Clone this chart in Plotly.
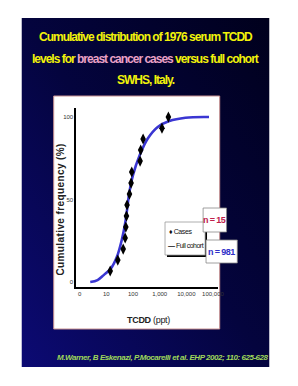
import base64
import plotly.graph_objects as go

W, H = 298, 386

# ---- data ----
cohort_tcdd = [2.5, 4.7, 8, 15, 25, 38, 51, 62, 71, 100, 180, 360, 850, 2300, 9300, 71000]
cohort_cum = [0, 1.2, 4.2, 8.3, 15.3, 25.5, 35.6, 45.6, 53, 64.8, 77, 87, 94, 97.6, 99.6, 100]
case_tcdd = [14, 27, 43, 51, 54, 57, 60, 74, 85, 90, 185, 195, 240, 1225, 2130]
case_cum = [6.7, 13.3, 20, 26.7, 33.3, 40, 46.7, 53.3, 60, 66.7, 73.3, 80, 86.7, 93.3, 100]
x_tickvals = [1, 10, 100, 1000, 10000, 100000]
x_ticktext = ["0", "10", "100", "1,000", "10,000", "100,000"]
y_tickvals = [0, 50, 100]

SANS = "Liberation Sans, Arial, sans-serif"


def px(x):
    return x / W


def py(y):
    return 1 - y / H


def tight(text, ls):
    return "<span style='letter-spacing:%spx'>%s</span>" % (ls, text)


fig = go.Figure()
fig.add_trace(go.Scatter(x=cohort_tcdd, y=cohort_cum, mode="lines",
                         line=dict(color="#3a36d2", width=2.6, shape="spline", smoothing=1.0),
                         showlegend=False, hoverinfo="skip"))
fig.add_trace(go.Scatter(x=case_tcdd, y=case_cum, mode="markers",
                         marker=dict(symbol="diamond-tall", color="black", size=8, line=dict(width=0)),
                         showlegend=False))

svg = ('<svg xmlns="http://www.w3.org/2000/svg" width="254" height="349" viewBox="0 0 254 349" preserveAspectRatio="none">'
       '<defs><linearGradient id="g" x1="0" y1="1" x2="1" y2="0">'
       '<stop offset="0" stop-color="#0c0a74"/><stop offset="0.5" stop-color="#04043e"/>'
       '<stop offset="1" stop-color="#00001c"/></linearGradient></defs>'
       '<rect width="254" height="349" fill="url(#g)"/></svg>')
src = "data:image/svg+xml;base64," + base64.b64encode(svg.encode()).decode()

fig.update_layout(
    width=W, height=H, margin=dict(l=0, r=0, t=0, b=0),
    paper_bgcolor="white", plot_bgcolor="#d6d6d6",
    images=[dict(source=src, xref="paper", yref="paper", x=px(22), y=py(18),
                 sizex=px(276) - px(22), sizey=py(18) - py(367), sizing="stretch",
                 xanchor="left", yanchor="top", layer="below")],
    xaxis=dict(type="log", domain=[px(78), px(223)], range=[-0.13, 5.18],
               tickvals=x_tickvals, ticktext=x_ticktext, showgrid=False, zeroline=False,
               showline=True, linecolor="black", linewidth=1.5, ticks="",
               tickfont=dict(family=SANS, size=6, color="#333")),
    yaxis=dict(domain=[py(287), py(108)], range=[-3, 105.5], tickvals=y_tickvals,
               showgrid=False, zeroline=False, showline=True, linecolor="black", linewidth=1.5,
               ticks="", tickfont=dict(family=SANS, size=6, color="#333")),
    shapes=[
        dict(type="rect", xref="paper", yref="paper", x0=px(55), x1=px(225), y0=py(329), y1=py(96),
             fillcolor="white", line=dict(color="#c89090", width=1), layer="below"),
        dict(type="line", xref="x domain", yref="y", x0=0, x1=1, y0=50, y1=50,
             line=dict(color="white", width=1.5), layer="below"),
        # legend box with shadow
        dict(type="rect", xref="paper", yref="paper", x0=px(171), x1=px(212), y0=py(257), y1=py(224),
             fillcolor="black", line=dict(width=0)),
        dict(type="rect", xref="paper", yref="paper", x0=px(169), x1=px(210), y0=py(255), y1=py(222),
             fillcolor="white", line=dict(color="#999", width=0.8)),
        # n boxes
        dict(type="rect", xref="paper", yref="paper", x0=px(208), x1=px(232), y0=py(232), y1=py(208),
             fillcolor="white", line=dict(color="#888", width=0.8)),
        dict(type="rect", xref="paper", yref="paper", x0=px(211), x1=px(243), y0=py(263), y1=py(240),
             fillcolor="white", line=dict(color="#888", width=0.8)),
    ],
)

TLS = -1.0
ann = []
title_font = dict(family=SANS, size=12, color="#f2f20a")
ann.append(dict(text=tight("<b>Cumulative distribution of 1976 serum TCDD</b>", TLS), x=px(149), y=py(37), font=title_font))
ann.append(dict(text="<b><span style='letter-spacing:%spx'>levels for </span>"
                     "<span style='letter-spacing:%spx;fill:#eaa0c6'>breast cancer cases</span>"
                     "<span style='letter-spacing:%spx'> versus full cohort</span></b>" % (TLS, TLS, TLS),
                x=px(149), y=py(59), font=title_font))
ann.append(dict(text=tight("<b>SWHS, Italy.</b>", TLS), x=px(149), y=py(80), font=title_font))
ann.append(dict(text=tight("<b>Cumulative frequency (%)</b>", 0.4), x=px(61), y=py(210), textangle=-90,
                font=dict(family=SANS, size=10, color="#222")))
ann.append(dict(text=tight("<b>TCDD</b> (ppt)", -0.3), x=px(152), y=py(320), font=dict(family=SANS, size=9, color="#222")))
ann.append(dict(text=tight("♦ Cases", -0.4), x=px(171), y=py(231), xanchor="left", font=dict(family=SANS, size=7, color="#111")))
ann.append(dict(text=tight("<b>—</b> Full cohort", -0.5), x=px(170), y=py(245), xanchor="left", font=dict(family=SANS, size=7, color="#111")))
ann.append(dict(text=tight("<b>n = 15</b>", -0.6), x=px(220), y=py(220), font=dict(family=SANS, size=9, color="#c0204a")))
ann.append(dict(text=tight("<b>n = 981</b>", -0.6), x=px(227), y=py(252), font=dict(family=SANS, size=9, color="#3030c8")))
ann.append(dict(text=tight("<b><i>M.Warner, B Eskenazi, P.Mocarelli et al. EHP 2002; 110: 625-628</i></b>", -0.45),
                x=px(167), y=py(357), xanchor="center", font=dict(family=SANS, size=8, color="#9fd85a")))
for a in ann:
    a.setdefault("xref", "paper")
    a.setdefault("yref", "paper")
    a.setdefault("showarrow", False)
    a.setdefault("xanchor", "center")
    a.setdefault("yanchor", "middle")
fig.update_layout(annotations=ann)

fig.write_html("out.html")
